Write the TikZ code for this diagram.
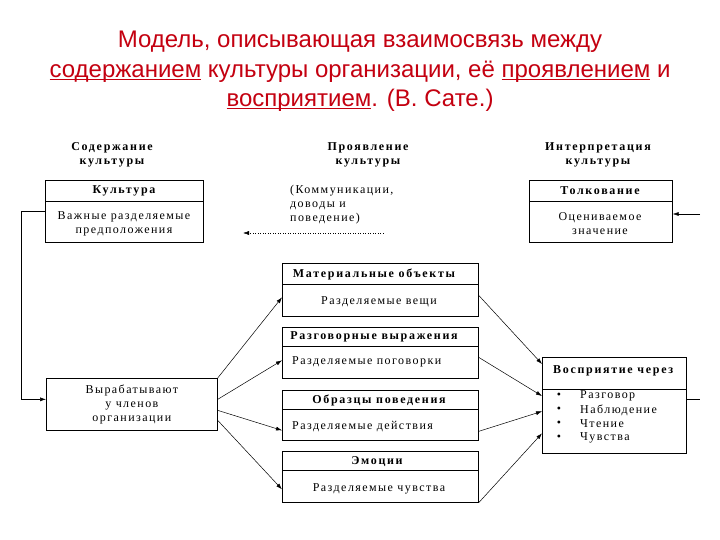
\documentclass[tikz,border=0pt]{standalone}
\usepackage{fontspec}
\setmainfont{Liberation Serif}
\newfontfamily\boxfont[LetterSpace=12]{Liberation Serif}
\newfontfamily\headfont[LetterSpace=14]{Liberation Serif}
\newfontfamily\titlefont{Liberation Sans}
\usetikzlibrary{arrows.meta}
\definecolor{titlered}{RGB}{196,0,16}
\newcommand\myul[1]{\setbox0\hbox{#1}\rlap{\rule[-2.6pt]{\wd0}{1.3pt}}\box0\relax}
\begin{document}
\begin{tikzpicture}[x=1pt,y=-1pt,
  box/.style={draw, line width=0.7pt, inner sep=0pt, anchor=north west},
  hd/.style={font=\headfont\fontsize{12}{14}\selectfont\bfseries, align=center, inner sep=0pt},
  bd/.style={font=\boxfont\fontsize{12}{14}\selectfont, align=center, inner sep=0pt},
  ttl/.style={font=\titlefont\fontsize{24}{28}\selectfont, text=titlered, inner sep=0pt},
  arr/.style={-{Latex[length=6pt,width=4pt]}, line width=0.5pt}]
\useasboundingbox (0,0) rectangle (720,540);
\fill[white] (0,0) rectangle (720,540);

% title
\node[ttl] (t1) at (360,42) {Модель, описывающая взаимосвязь между};
\node[ttl] (t2) at (360,72) {\myul{содержанием} культуры организации, её \myul{проявлением} и};
\node[ttl] (t3) at (360,100) {\myul{восприятием}. (В. Сате.)};

% column headings
\node[hd] (h1) at (112,155) {Содержание\\культуры};
\node[hd] (h2) at (368,155) {Проявление\\культуры};
\node[hd] (h3) at (598,155) {Интерпретация\\культуры};

% culture box
\node[box, minimum width=158pt, minimum height=62pt] (kult) at (45,180) {};
\draw[line width=0.7pt] (kult.west |- 0,201) -- (kult.east |- 0,201);
\node[hd] (kulth) at (124,191) {Культура};
\node[bd] (kultb) at (124,224) {Важные разделяемые\\предположения};

% manifestation text
\node[bd, align=left, anchor=north west] (manif) at (290,185) {(Коммуникации,\\доводы и\\поведение)};
\coordinate (dotS) at (383,233);
\coordinate (dotE) at (243,233);
\draw[arr, dotted] (dotS) -- (dotE);

% interpretation box
\node[box, minimum width=143pt, minimum height=62pt] (tolk) at (529,180) {};
\draw[line width=0.7pt] (tolk.west |- 0,201) -- (tolk.east |- 0,201);
\node[hd] (tolkh) at (600,191) {Толкование};
\node[bd] (tolkb) at (600,224) {Оцениваемое\\значение};
\coordinate (inR) at (700,214);
\draw[arr] (inR) -- (tolk.east |- inR);

% members box
\node[box, bd, minimum width=171pt, minimum height=52pt] (vyr) at (46,378) {Вырабатывают\\у членов\\организации};
\draw[arr] (kult.west) -- ++(-24,0) |- ([yshift=5pt]vyr.west);

% middle boxes
\node[box, minimum width=196pt, minimum height=53pt] (mA) at (282,263) {};
\draw[line width=0.7pt] (mA.west |- 0,284) -- (mA.east |- 0,284);
\node[hd] (mAh) at (374,274) {Материальные объекты};
\node[bd] (mAb) at (379,302) {Разделяемые вещи};

\node[box, minimum width=196pt, minimum height=51pt] (mB) at (282,327) {};
\draw[line width=0.7pt] (mB.west |- 0,346) -- (mB.east |- 0,346);
\node[hd] (mBh) at (374,337) {Разговорные выражения};
\node[bd, anchor=west] (mBb) at (292,362) {Разделяемые поговорки};

\node[box, minimum width=196pt, minimum height=50pt] (mC) at (282,390) {};
\draw[line width=0.7pt] (mC.west |- 0,409) -- (mC.east |- 0,409);
\node[hd] (mCh) at (379,400) {Образцы поведения};
\node[bd, anchor=west] (mCb) at (292,427) {Разделяемые действия};

\node[box, minimum width=196pt, minimum height=51pt] (mD) at (282,451) {};
\draw[line width=0.7pt] (mD.west |- 0,470) -- (mD.east |- 0,470);
\node[hd] (mDh) at (377,462) {Эмоции};
\node[bd] (mDb) at (379,489) {Разделяемые чувства};

% perception box
\node[box, minimum width=144pt, minimum height=96pt] (vos) at (542,357) {};
\draw[line width=0.7pt] (vos.west |- 0,389) -- (vos.east |- 0,389);
\node[hd, anchor=west] (vosh) at (553,371) {Восприятие через};
\node[bd] (b1) at (559,396) {•};
\node[bd] (b2) at (559,410) {•};
\node[bd] (b3) at (559,424) {•};
\node[bd] (b4) at (559,438) {•};
\node[bd, anchor=west] (i1) at (580,396) {Разговор};
\node[bd, anchor=west] (i2) at (580,410) {Наблюдение};
\node[bd, anchor=west] (i3) at (580,424) {Чтение};
\node[bd, anchor=west] (i4) at (580,438) {Чувства};
\coordinate (stubE) at (700,399);
\draw[line width=0.5pt] (vos.east |- stubE) -- (stubE);

% fan from members box
\draw[arr] (vyr.north east) -- ([yshift=-7.5pt]mA.west);
\draw[arr] ([yshift=5pt]vyr.east) -- ([yshift=-7.5pt]mB.west);
\draw[arr] ([yshift=-6pt]vyr.east) -- ([yshift=-15pt]mC.west);
\draw[arr] ([yshift=-16pt]vyr.east) -- ([yshift=-12.5pt]mD.west);

% fan into perception box
\draw[arr] ([yshift=-5.5pt]mA.east) -- ([yshift=-7pt]vos.north west);
\draw[arr] ([yshift=-4.5pt]mB.east) -- ([yshift=-39pt]vos.north west);
\draw[arr] ([yshift=-16pt]mC.east) -- ([yshift=-6pt]vos.west);
\draw[arr] (mD.south east) -- ([yshift=-28pt]vos.west);
\end{tikzpicture}
\end{document}
